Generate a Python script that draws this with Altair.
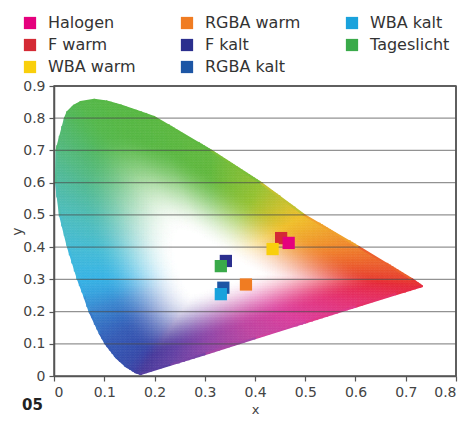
import numpy as np
import pandas as pd
import altair as alt

# ---- measured light sources (CIE 1931 x, y), drawing order ----
src_names = ["F warm", "F kalt", "RGBA kalt", "RGBA warm", "WBA warm", "Halogen", "Tageslicht", "WBA kalt"]
src_x = [0.452, 0.342, 0.337, 0.382, 0.435, 0.467, 0.332, 0.332]
src_y = [0.428, 0.357, 0.274, 0.284, 0.394, 0.413, 0.341, 0.254]

# legend order (filled column by column, 3 rows) and colours
legend_order = ["Halogen", "F warm", "WBA warm", "RGBA warm", "F kalt", "RGBA kalt", "WBA kalt", "Tageslicht"]
legend_colors = ["#e5007d", "#d42a35", "#f9cf0c", "#f07c22", "#2b2f8e", "#1d56a5", "#1aa2dc", "#3aaa4a"]

# ---- colour-space outline (x, y, edge colour) ----
locus_x = [0.1725, 0.164, 0.157, 0.144, 0.124, 0.103, 0.091, 0.071, 0.060, 0.048, 0.028, 0.012,
           0.004, 0.005, 0.022, 0.027, 0.040, 0.053, 0.080, 0.105, 0.133, 0.165, 0.199, 0.312,
           0.411, 0.4975, 0.607, 0.713, 0.732, 0.680, 0.600, 0.500, 0.400, 0.300, 0.230]
locus_y = [0.006, 0.011, 0.018, 0.030, 0.058, 0.100, 0.133, 0.200, 0.250, 0.300, 0.400, 0.500,
           0.600, 0.700, 0.800, 0.819, 0.839, 0.850, 0.857, 0.852, 0.839, 0.822, 0.804, 0.700,
           0.600, 0.500, 0.400, 0.300, 0.279, 0.254, 0.215, 0.166, 0.117, 0.068, 0.034]
locus_c = ["#4a3c9c", "#433fa0", "#3d44a6", "#384caa", "#3553b0", "#355cb6", "#3568be", "#3a86cf",
           "#38a2de", "#38b4e6", "#45bcd6", "#4ebdc0", "#52bca4", "#54ba84", "#53b862", "#53b85a",
           "#54b852", "#55b84c", "#56b848", "#57b846", "#58b845", "#59b844", "#5ab843", "#62b93e",
           "#94c233", "#f0c02c", "#f0812e", "#e8402f", "#e62a38", "#e62e55", "#e4357a", "#dc3f9c",
           "#c046a2", "#8c46a8", "#6442a4"]
white_point = (0.31, 0.33)

y_grid = [0.1, 0.2, 0.3, 0.4, 0.5, 0.6, 0.7, 0.8]
x_ticks = [0, 0.1, 0.2, 0.3, 0.4, 0.5, 0.6, 0.7, 0.8]
y_ticks = [0, 0.1, 0.2, 0.3, 0.4, 0.5, 0.6, 0.7, 0.8, 0.9]
frame_top = [0.9]
frame_right = [0.8]


def hex2rgb(h):
    return [int(h[i:i + 2], 16) for i in (1, 3, 5)]


# ---- build the colour-field cells inside the outline ----
verts = np.column_stack([locus_x, locus_y])
cols = np.array([hex2rgb(c) for c in locus_c], dtype=float)
A = verts
B = np.roll(verts, -1, axis=0)
cA = cols
cB = np.roll(cols, -1, axis=0)
E = B - A
W = np.array(white_point)
AW = A - W

step = 0.005
gx = np.arange(0, 0.74, step)
gy = np.arange(0, 0.87, step)
CX, CY = np.meshgrid(gx + step / 2, gy + step / 2)
P = np.column_stack([CX.ravel(), CY.ravel()])
D = P - W
with np.errstate(divide="ignore", invalid="ignore"):
    denom = D[:, 0:1] * E[None, :, 1] - D[:, 1:2] * E[None, :, 0]
    s = (AW[:, 0] * E[:, 1] - AW[:, 1] * E[:, 0])[None, :] / denom
    u = (AW[None, :, 0] * D[:, 1:2] - AW[None, :, 1] * D[:, 0:1]) / denom
valid = np.isfinite(s) & (s > 0) & (u >= -1e-9) & (u <= 1 + 1e-9)
s_m = np.where(valid, s, np.inf)
idx = np.argmin(s_m, axis=1)
s_hit = s_m[np.arange(len(P)), idx]
u_hit = np.clip(u[np.arange(len(P)), idx], 0, 1)
inside = s_hit >= 1.0
t = 1.0 / s_hit
edge_col = cA[idx] * (1 - u_hit[:, None]) + cB[idx] * u_hit[:, None]
q = np.clip((t - 0.22) / 0.6, 0, 1)
f = q * q * (3 - 2 * q)
rgb = 255 * (1 - f[:, None]) + edge_col * f[:, None]
rgb = np.clip(np.round(rgb), 0, 255).astype(int)
hexes = np.array(["#%02x%02x%02x" % tuple(c) for c in rgb])

cells = pd.DataFrame({
    "x0": np.round(P[inside, 0] - step / 2, 4),
    "x1": np.round(P[inside, 0] + step / 2, 4),
    "y0": np.round(P[inside, 1] - step / 2, 4),
    "y1": np.round(P[inside, 1] + step / 2, 4),
    "c": hexes[inside],
})

seg_rows = []
for i in range(len(verts)):
    j = (i + 1) % len(verts)
    cm = (cols[i] + cols[j]) / 2
    seg_rows.append({"x": locus_x[i], "y": locus_y[i], "x2": locus_x[j], "y2": locus_y[j],
                     "c": "#%02x%02x%02x" % tuple(int(round(v)) for v in cm)})
segs = pd.DataFrame(seg_rows)

pts = pd.DataFrame({"name": src_names, "x": src_x, "y": src_y, "idx": list(range(len(src_names)))})
grid = pd.DataFrame({"y": y_grid})

FONT = "DejaVu Sans"
xscale = alt.Scale(domain=[0, 0.8], nice=False, zero=False)
yscale = alt.Scale(domain=[0, 0.9], nice=False, zero=False)

x_axis = alt.Axis(values=x_ticks, format="~g", title="x", grid=False, tickSize=5,
                  labelPadding=4, labelOverlap=False, titleBaseline="alphabetic", titleY=37,
                  titleFontSize=13)
y_axis = alt.Axis(values=y_ticks, format="~g", title="y", grid=False, tickSize=5,
                  labelPadding=4, titlePadding=-2, labelOverlap=False)


def X(field):
    return alt.X(field, type="quantitative", scale=xscale, axis=x_axis)


def Y(field):
    return alt.Y(field, type="quantitative", scale=yscale, axis=y_axis)


field = alt.Chart(cells).mark_rect(strokeWidth=0.6).encode(
    x=X("x0"),
    x2="x1:Q",
    y=Y("y0"),
    y2="y1:Q",
    color=alt.Color("c:N", scale=None),
    stroke=alt.Stroke("c:N", scale=None),
)

edge = alt.Chart(segs).mark_rule(strokeWidth=2.2, strokeCap="round").encode(
    x=X("x"), y=Y("y"), x2="x2:Q", y2="y2:Q",
    color=alt.Color("c:N", scale=None),
)

gridlines = alt.Chart(grid).mark_rule(color="#4a4a4a", opacity=0.6, strokeWidth=1.3).encode(
    y=Y("y")
)

top_line = alt.Chart(pd.DataFrame({"y": frame_top})).mark_rule(color="#555", strokeWidth=1.5).encode(
    y=Y("y")
)
right_line = alt.Chart(pd.DataFrame({"x": frame_right})).mark_rule(color="#555", strokeWidth=1.5).encode(
    x=X("x")
)

squares = alt.Chart(pts).mark_square(size=150, opacity=1).encode(
    x=X("x"),
    y=Y("y"),
    color=alt.Color(
        "name:N",
        scale=alt.Scale(domain=legend_order, range=legend_colors),
        sort=legend_order,
        legend=alt.Legend(
            title=None, orient="none", legendX=-32, legendY=-71, columns=3,
            symbolType="square", symbolSize=150, symbolStrokeWidth=0, symbolOpacity=1,
            labelFont=FONT, labelFontSize=16, labelColor="#333", labelOffset=10,
            columnPadding=43, rowPadding=6,
        ),
    ),
    order=alt.Order("idx:Q"),
)

chart = alt.layer(field, edge, gridlines, top_line, right_line, squares).resolve_scale(
    color="independent", stroke="independent"
).properties(
    width=402,
    height=290,
    autosize=alt.AutoSizeParams(type="none"),
    padding={"left": 46, "top": 78, "right": 9, "bottom": 40},
    title=alt.TitleParams(text="05", orient="bottom", anchor="start", frame="group", dx=-32,
                          offset=-18, fontSize=15, fontWeight="bold", color="#222", font=FONT),
).configure_view(
    stroke="#555", strokeWidth=1.5
).configure_axis(
    domainColor="#555", domainWidth=1.5, tickColor="#555", tickWidth=1.2,
    labelFont=FONT, labelFontSize=14, labelColor="#444",
    titleFont=FONT, titleFontSize=14, titleColor="#444", titleFontWeight="normal",
)

chart.save("out.html", embed_options={"renderer": "svg", "actions": False})
